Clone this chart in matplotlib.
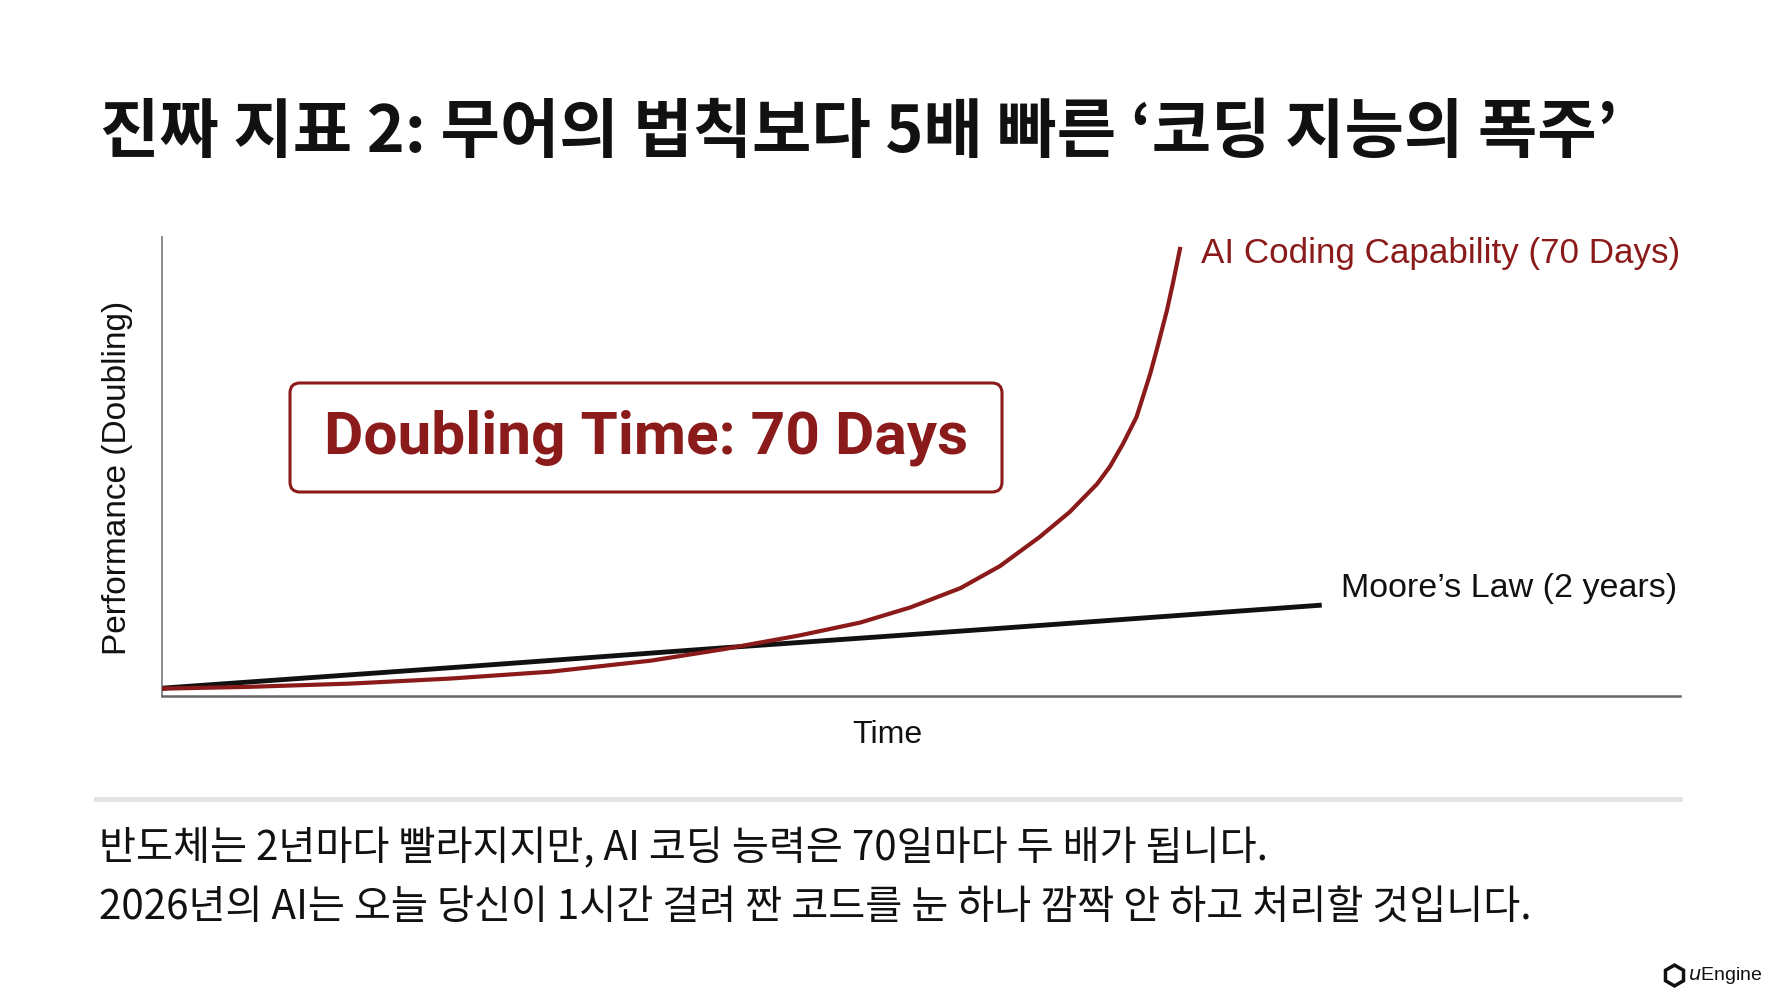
import matplotlib.pyplot as plt
from matplotlib.patches import FancyBboxPatch
from matplotlib.lines import Line2D

# values, time and performance on a 0-100 scale
ai_time = [0, 5.8, 12.4, 19.0, 25.6, 32.2, 37.0, 42.0, 46.0, 49.3, 52.6, 55.2, 57.8,
           59.8, 61.6, 62.45, 63.3, 64.2, 65.1, 65.55, 66.2, 66.6, 67.06]
ai_perf = [1.6, 2.0, 2.7, 3.8, 5.3, 7.7, 10.2, 13.2, 16.0, 19.3, 23.5, 28.3, 34.6,
           40.1, 46.2, 50.0, 54.9, 60.8, 70.2, 75.7, 84.0, 90.0, 97.4]
moore_time = [0, 20, 37, 55, 76.4]
moore_perf = [1.7, 6.4, 10.5, 14.7, 19.8]

ai_label = "AI Coding Capability (70 Days)"
moore_label = "Moore’s Law (2 years)"
box_text = "Doubling Time: 70 Days"
title = "진짜 지표 2: 무어의 법칙보다 5배 빠른 ‘코딩 지능의 폭주’"
caption = ["반도체는 2년마다 빨라지지만, AI 코딩 능력은 70일마다 두 배가 됩니다.",
           "2026년의 AI는 오늘 당신이 1시간 걸려 짠 코드를 눈 하나 깜짝 안 하고 처리할 것입니다."]

RED = "#8b1a1a"
KR = ["Noto Sans CJK KR", "DejaVu Sans"]
LAT = ["Liberation Sans", "DejaVu Sans"]

fig = plt.figure(figsize=(17.78, 10), dpi=100)
fig.patch.set_facecolor("white")

ax = fig.add_axes([162 / 1778, 1 - 696 / 1000, 1518 / 1778, 459 / 1000])
ax.plot(moore_time, moore_perf, color="#111111", lw=3.5, solid_capstyle="butt", zorder=2)
ax.plot(ai_time, ai_perf, color=RED, lw=3.0, solid_joinstyle="round", zorder=3)
ax.set_xlim(0, 100)
ax.set_ylim(0, 100)
ax.set_xticks([])
ax.set_yticks([])
for s in ["top", "right"]:
    ax.spines[s].set_visible(False)
ax.spines["left"].set_color("#777777")
ax.spines["left"].set_linewidth(1.2)
ax.spines["bottom"].set_color("#666666")
ax.spines["bottom"].set_linewidth(1.8)

ax.set_xlabel("Time", family=LAT, fontsize=23, color="#111111")
ax.xaxis.set_label_coords(0.478, -0.085)
ax.xaxis.label.set_va("center")
ax.set_ylabel("Performance (Doubling)", family=LAT, fontsize=24, color="#111111")
ax.yaxis.set_label_coords(-0.0296, 0.475)
ax.yaxis.label.set_va("center")

ax.annotate(ai_label, xy=(ai_time[-1], ai_perf[-1]), xytext=(15, -3),
            textcoords="offset points", ha="left", va="center",
            family=LAT, fontsize=25.2, color=RED)
ax.annotate(moore_label, xy=(moore_time[-1], moore_perf[-1]), xytext=(14, 12),
            textcoords="offset points", ha="left", va="center",
            family=LAT, fontsize=24.5, color="#111111")

# annotation box
box = FancyBboxPatch((2.90, 5.08), 7.12, 1.09, boxstyle="round,pad=0,rounding_size=0.1",
                     transform=fig.dpi_scale_trans, fc="white", ec=RED, lw=2.2)
fig.add_artist(box)
fig.text(646 / 1778, 1 - 438 / 1000, box_text, ha="center", va="center",
         family=["Roboto", "DejaVu Sans"], weight="bold", fontsize=43.5, color=RED)

fig.text(100 / 1778, 1 - 133 / 1000, title, ha="left", va="center",
         family=KR, weight="bold", fontsize=46.5, color="#111111")

fig.add_artist(Line2D([96 / 1778, 1680 / 1778], [1 - 799 / 1000] * 2,
                      color="#e3e3e3", lw=3.5))
fig.text(99 / 1778, 1 - 848 / 1000, caption[0], ha="left", va="center",
         family=KR, fontsize=29, color="#111111")
fig.text(99 / 1778, 1 - 907 / 1000, caption[1], ha="left", va="center",
         family=KR, fontsize=29, color="#111111")

# small logo bottom right
fig.add_artist(Line2D([1674 / 1778], [1 - 975 / 1000], marker="h", ms=15,
                      mfc="white", mec="#111111", mew=2.5))
fig.text(1688 / 1778, 1 - 975 / 1000, r"$\mathit{u}$Engine", ha="left", va="center",
         family=LAT, fontsize=14, color="#111111")

fig.savefig("out.png", dpi=100, facecolor="white")
